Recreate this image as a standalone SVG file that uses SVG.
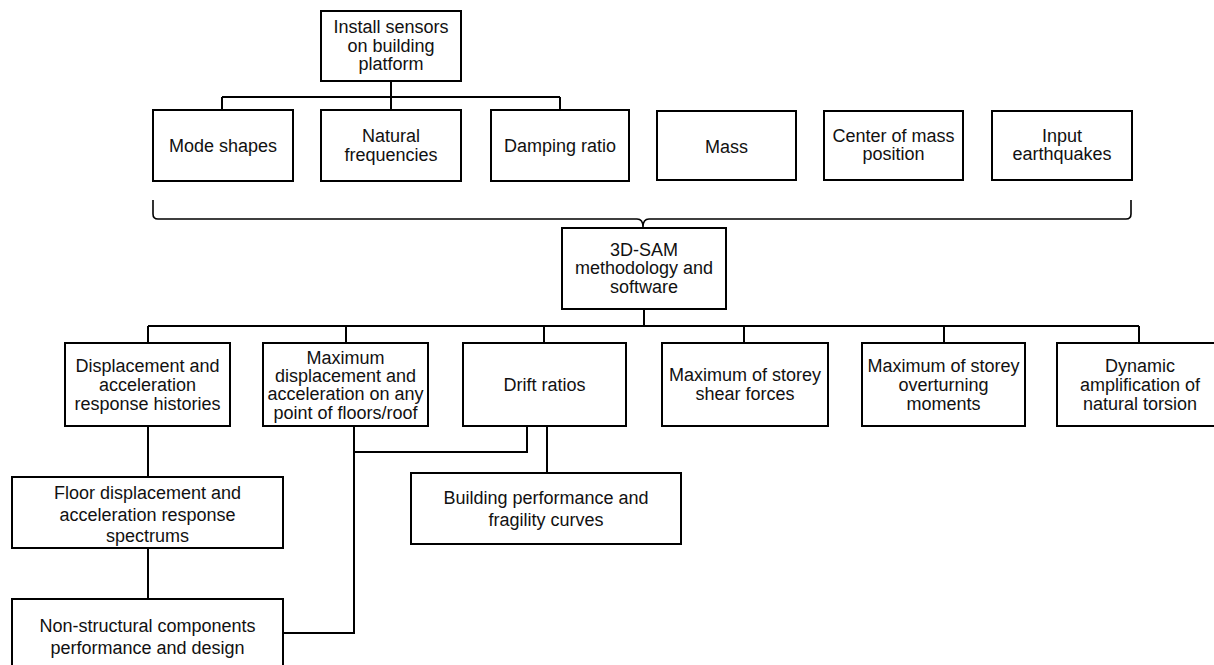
<svg xmlns="http://www.w3.org/2000/svg" width="1214" height="665" viewBox="0 0 1214 665">
<style>
rect{fill:#fff;stroke:#000;stroke-width:2}
text{font-family:"Liberation Sans",Arial,sans-serif;font-size:18px;fill:#111;text-anchor:middle}
.c path{fill:none;stroke:#000;stroke-width:2}
.c path.br{stroke-width:1.6}
</style>
<rect x="0" y="0" width="1214" height="665" style="stroke:none"/>
<g class="c" id="connectors">
<path d="M391,81V97M222,97H560M222,97V110M391,97V110M560,97V110"/>
<path class="br" d="M153,200V214Q153,219 158,219H637Q643,219 643,227Q643,219 649,219H1126Q1131,219 1131,214V200"/>
<path d="M644,309V326M148,326H1139M148,326V343M346,326V343M544,326V343M744,326V343M944,326V343M1139,326V343"/>
<path d="M148,426V477M148,548V599"/>
<path d="M354,426V633H283"/>
<path d="M527,426V452H354"/>
<path d="M547,426V473"/>
</g>
<g id="install"><rect x="321" y="11" width="140" height="70"/><text x="391" y="33">Install sensors</text><text x="391" y="52">on building</text><text x="391" y="70">platform</text></g>
<g id="mode"><rect x="153" y="110" width="140" height="71"/><text x="223" y="152">Mode shapes</text></g>
<g id="natural"><rect x="321" y="110" width="140" height="71"/><text x="391" y="142">Natural</text><text x="391" y="161">frequencies</text></g>
<g id="damping"><rect x="491" y="110" width="138" height="71"/><text x="560" y="152">Damping ratio</text></g>
<g id="mass"><rect x="657" y="111" width="139" height="69"/><text x="726.5" y="153">Mass</text></g>
<g id="centerofmass"><rect x="824" y="111" width="139" height="69"/><text x="893.5" y="142">Center of mass</text><text x="893.5" y="160">position</text></g>
<g id="input"><rect x="992" y="111" width="140" height="69"/><text x="1062" y="142">Input</text><text x="1062" y="160">earthquakes</text></g>
<g id="sam"><rect x="562" y="228" width="164" height="81"/><text x="644" y="256">3D-SAM</text><text x="644" y="274">methodology and</text><text x="644" y="293">software</text></g>
<g id="disp"><rect x="65" y="343" width="165" height="83"/><text x="147.5" y="372">Displacement and</text><text x="147.5" y="391">acceleration</text><text x="147.5" y="410">response histories</text></g>
<g id="maxdisp"><rect x="263" y="343" width="165" height="83"/><text x="345.5" y="364">Maximum</text><text x="345.5" y="382">displacement and</text><text x="345.5" y="400">acceleration on any</text><text x="345.5" y="419">point of floors/roof</text></g>
<g id="drift"><rect x="463" y="343" width="163" height="83"/><text x="544.5" y="391">Drift ratios</text></g>
<g id="shear"><rect x="662" y="343" width="166" height="83"/><text x="745" y="381">Maximum of storey</text><text x="745" y="400">shear forces</text></g>
<g id="overturn"><rect x="862" y="343" width="163" height="83"/><text x="943.5" y="372">Maximum of storey</text><text x="943.5" y="391">overturning</text><text x="943.5" y="410">moments</text></g>
<g id="dynamic"><rect x="1057" y="343" width="166" height="83"/><text x="1140" y="372">Dynamic</text><text x="1140" y="391">amplification of</text><text x="1140" y="410">natural torsion</text></g>
<g id="floor"><rect x="12" y="477" width="271" height="71"/><text x="147.5" y="499">Floor displacement and</text><text x="147.5" y="521">acceleration response</text><text x="147.5" y="542">spectrums</text></g>
<g id="building"><rect x="411" y="473" width="270" height="71"/><text x="546" y="504">Building performance and</text><text x="546" y="526">fragility curves</text></g>
<g id="nonstruct"><rect x="12" y="599" width="271" height="80"/><text x="147.5" y="632">Non-structural components</text><text x="147.5" y="654">performance and design</text></g>
</svg>
